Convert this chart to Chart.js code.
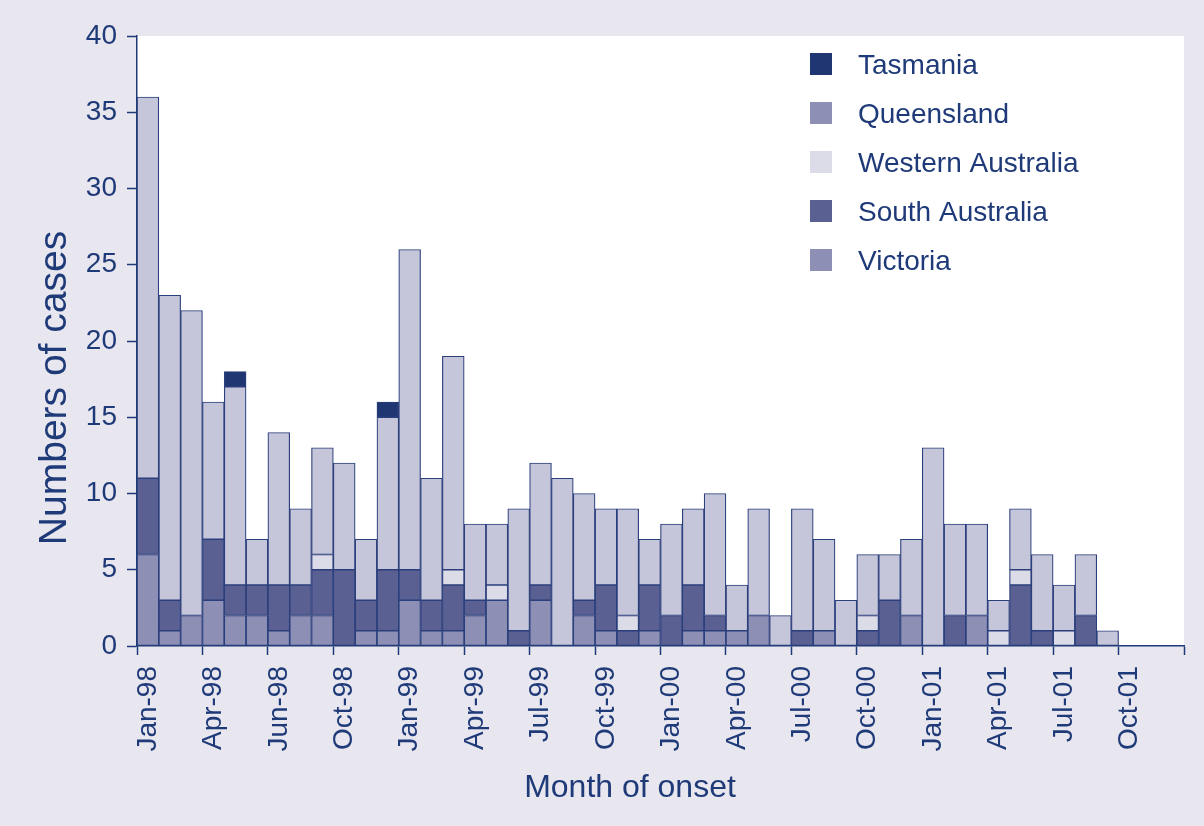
<!DOCTYPE html>
<html>
<head>
<meta charset="utf-8">
<title>Numbers of cases by month of onset</title>
<script src="https://cdn.jsdelivr.net/npm/chart.js@4.4.0/dist/chart.umd.min.js"></script>
<style>
    html, body { margin: 0; padding: 0; background: #e8e6ee; }
    #wrap { width: 1204px; height: 826px; }
</style>
</head>
<body>
<div id="wrap"><canvas id="casesChart" width="1204" height="826"></canvas></div>
<script>
// one category per month, Jan-98 .. Dec-01
const months = [
    'Jan-98','Feb-98','Mar-98','Apr-98','May-98','Jun-98','Jul-98','Aug-98','Sep-98','Oct-98','Nov-98','Dec-98',
    'Jan-99','Feb-99','Mar-99','Apr-99','May-99','Jun-99','Jul-99','Aug-99','Sep-99','Oct-99','Nov-99','Dec-99',
    'Jan-00','Feb-00','Mar-00','Apr-00','May-00','Jun-00','Jul-00','Aug-00','Sep-00','Oct-00','Nov-00','Dec-00',
    'Jan-01','Feb-01','Mar-01','Apr-01','May-01','Jun-01','Jul-01','Aug-01','Sep-01','Oct-01','Nov-01','Dec-01'
];

// labels printed under every third month (as they appear on the original)
const tickLabels = ['Jan-98','Apr-98','Jun-98','Oct-98','Jan-99','Apr-99','Jul-99','Oct-99',
                    'Jan-00','Apr-00','Jul-00','Oct-00','Jan-01','Apr-01','Jul-01','Oct-01'];

const yTicks = [0, 5, 10, 15, 20, 25, 30, 35, 40];

// case counts, stacked from the bottom up
const victoria         = [6,1,2,3,2,2,1,2,2,0,1,1, 3,1,1,2,3,0,3,0,2,1,0,1, 0,1,1,1,2,0,0,1,0,0,0,2, 0,0,2,0,0,0,0,0,0,0,0,0];
const southAustralia   = [5,2,0,4,2,2,3,2,3,5,2,4, 2,2,3,1,0,1,1,0,1,3,1,3, 2,3,1,0,0,0,1,0,0,1,3,0, 0,2,0,0,4,1,0,2,0,0,0,0];
const westernAustralia = [0,0,0,0,0,0,0,0,1,0,0,0, 0,0,1,0,1,0,0,0,0,0,1,0, 0,0,0,0,0,0,0,0,0,1,0,0, 0,0,0,1,1,0,1,0,0,0,0,0];
const newSouthWales    = [25,20,20,9,13,3,10,5,7,7,4,10, 21,8,14,5,4,8,8,11,7,5,7,3, 6,5,8,3,7,2,8,6,3,4,3,5, 13,6,6,2,4,5,3,4,1,0,0,0];
const tasmania         = [0,0,0,0,1,0,0,0,0,0,0,1, 0,0,0,0,0,0,0,0,0,0,0,0, 0,0,0,0,0,0,0,0,0,0,0,0, 0,0,0,0,0,0,0,0,0,0,0,0];

const legendNames  = ['Tasmania', 'Queensland', 'Western Australia', 'South Australia', 'Victoria'];
const legendColors = ['#1f3672', '#8e8fb5', '#dcdbe8', '#5a6092', '#8e8fb5'];

const NAVY = '#1f3a78';
const FONT = "'Liberation Sans', Arial, sans-serif";

Chart.defaults.font.family = FONT;
Chart.defaults.color = NAVY;

function series(label, data, color) {
    return {
        label: label,
        data: data,
        backgroundColor: color,
        borderColor: '#2b3f7c',
        borderWidth: 1.2,
        borderSkipped: false,
        stack: 'cases'
    };
}

// page background, white plot area, axis titles and the legend
const decorations = {
    id: 'decorations',
    beforeDraw(chart) {
        const { ctx, chartArea: a } = chart;
        ctx.save();
        ctx.fillStyle = '#e8e6ee';
        ctx.fillRect(0, 0, chart.width, chart.height);
        ctx.fillStyle = '#ffffff';
        ctx.fillRect(a.left, a.top, a.right - a.left, a.bottom - a.top);
        ctx.restore();
    },
    afterDraw(chart) {
        const { ctx, chartArea: a } = chart;
        ctx.save();
        ctx.fillStyle = NAVY;
        ctx.textBaseline = 'middle';

        // y title
        ctx.save();
        ctx.translate(55, 388);
        ctx.rotate(-Math.PI / 2);
        ctx.textAlign = 'center';
        ctx.font = '39px ' + FONT;
        ctx.fillText('Numbers of cases', 0, 0);
        ctx.restore();

        // x title
        ctx.textAlign = 'center';
        ctx.font = '32px ' + FONT;
        ctx.fillText('Month of onset', 630, 788);

        // legend
        ctx.textAlign = 'left';
        ctx.font = '28px ' + FONT;
        legendNames.forEach((name, i) => {
            const cy = a.top + 28 + i * 49;
            ctx.fillStyle = legendColors[i];
            ctx.fillRect(a.left + 673, cy - 11, 22, 22);
            ctx.fillStyle = NAVY;
            ctx.fillText(name, a.left + 721, cy + 2);
        });
        ctx.restore();
    }
};

new Chart(document.getElementById('casesChart'), {
    type: 'bar',
    data: {
        labels: months,
        datasets: [
            series('Victoria', victoria, '#8e8fb5'),
            series('South Australia', southAustralia, '#5a6092'),
            series('Western Australia', westernAustralia, '#dcdbe8'),
            series('New South Wales', newSouthWales, '#c6c6da'),
            series('Tasmania', tasmania, '#1f3672')
        ]
    },
    options: {
        responsive: false,
        animation: false,
        layout: { padding: { top: 36, right: 20, left: 0, bottom: 0 } },
        plugins: {
            legend: { display: false },
            tooltip: { enabled: false }
        },
        datasets: { bar: { categoryPercentage: 1, barPercentage: 1 } },
        scales: {
            x: {
                stacked: true,
                offset: true,
                afterFit(scale) {
                    scale.height = 180;
                    scale.paddingRight = 0;
                    scale.paddingLeft = 0;
                },
                grid: {
                    offset: true,
                    drawOnChartArea: false,
                    tickLength: 9,
                    tickWidth: 1.5,
                    tickColor: (c) => (c.index === undefined || c.index % 3 === 0) ? NAVY : 'rgba(0,0,0,0)'
                },
                border: { color: NAVY, width: 1.5 },
                ticks: {
                    autoSkip: false,
                    minRotation: 90,
                    maxRotation: 90,
                    padding: 11,
                    color: NAVY,
                    font: { size: 28 },
                    callback: (value, index) => index % 3 === 0 ? tickLabels[index / 3] : ''
                }
            },
            y: {
                stacked: true,
                min: 0,
                max: 40,
                afterFit(scale) {
                    scale.width = 137;
                    scale.paddingTop = 0;
                    scale.paddingBottom = 0;
                },
                afterBuildTicks(scale) { scale.ticks = yTicks.map(v => ({ value: v })); },
                grid: {
                    drawOnChartArea: false,
                    tickLength: 10,
                    tickWidth: 1.5,
                    tickColor: NAVY
                },
                border: { color: NAVY, width: 1.5 },
                ticks: {
                    padding: 10,
                    color: NAVY,
                    font: { size: 28 }
                }
            }
        }
    },
    plugins: [decorations]
});
</script>
</body>
</html>
